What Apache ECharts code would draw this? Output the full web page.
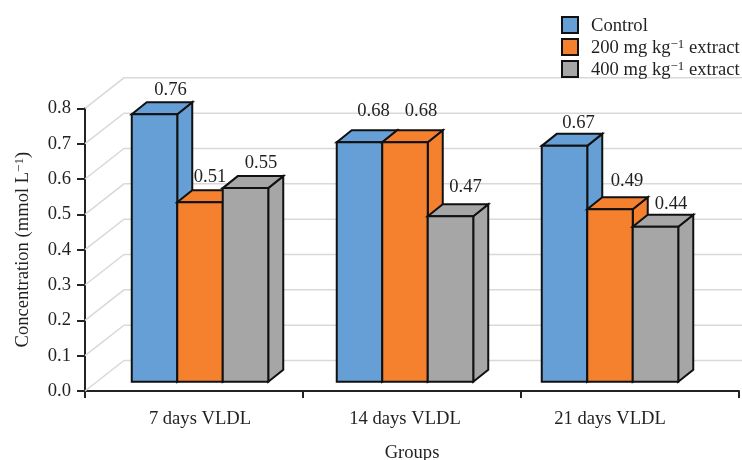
<!DOCTYPE html>
<html>
<head>
<meta charset="utf-8">
<style>html,body{margin:0;padding:0;background:#fff}#chart{width:742px;height:460px}</style>
<script src="https://cdn.jsdelivr.net/npm/echarts@6/dist/echarts.min.js"></script>
</head>
<body>
<div id="chart"></div>
<script>
// Values per treatment, one entry per time point
const groups = ['7 days VLDL', '14 days VLDL', '21 days VLDL'];
const control = [0.76, 0.68, 0.67];
const extract200 = [0.51, 0.68, 0.49];
const extract400 = [0.55, 0.47, 0.44];
const yTicks = [0, 0.1, 0.2, 0.3, 0.4, 0.5, 0.6, 0.7, 0.8];

// Pseudo-3D drawing parameters
const INK = '#111111';
const TEXT = '#231f20';
const FONT = '"Liberation Serif", serif';
const FONT_SIZE = 18.6;
const BAR_DEPTH = [15, -12];
const WALL_DEPTH = [39, -30.5];
const BAR_SHARE = 45.5 / 205;

// Value label placement relative to each bar's front-top centre
const labelShiftX = [[16, 14, 14], [10, 16, 17], [15.5, 15, 15.5]];
const labelShiftY = [[-24, -31, -23], [-25, -31, -28], [-25, -29, -23]];

const treatments = [
  { name: 'Control', values: control, color: '#659fd6' },
  { name: '200 mg kg{sup|\u22121} extract', values: extract200, color: '#f5812f' },
  { name: '400 mg kg{sup|\u22121} extract', values: extract400, color: '#a6a6a6' }
];

function renderBar(index) {
  return function (params, api) {
    const cat = api.value(0);
    const val = api.value(1);
    const top = api.coord([cat, val]);
    const base = api.coord([cat, 0]);
    const w = api.size([1, 0])[0] * BAR_SHARE;
    const x0 = top[0] + (index - 1.5) * w;
    const x1 = x0 + w;
    const dx = BAR_DEPTH[0];
    const dy = BAR_DEPTH[1];
    const color = treatments[index].color;
    const face = { fill: color, stroke: INK, lineWidth: 2, lineJoin: 'miter' };
    return {
      type: 'group',
      children: [
        { type: 'polygon', shape: { points: [[x1, base[1]], [x1 + dx, base[1] + dy], [x1 + dx, top[1] + dy], [x1, top[1]]] }, style: face },
        { type: 'polygon', shape: { points: [[x0, top[1]], [x0 + dx, top[1] + dy], [x1 + dx, top[1] + dy], [x1, top[1]]] }, style: face },
        { type: 'rect', shape: { x: x0, y: top[1], width: w, height: base[1] - top[1] }, style: face },
        {
          type: 'text', z2: 20,
          x: (x0 + x1) / 2 + labelShiftX[index][cat],
          y: top[1] + labelShiftY[index][cat],
          style: { text: val.toFixed(2), fill: TEXT, font: FONT_SIZE + 'px ' + FONT, textAlign: 'center', textVerticalAlign: 'middle' }
        }
      ]
    };
  };
}

// Receding gridlines on the floor edge and back wall
function renderWall(params, api) {
  const y = api.coord([0, api.value(0)])[1];
  const left = params.coordSys.x;
  const corner = [left + WALL_DEPTH[0], y + WALL_DEPTH[1]];
  return {
    type: 'polyline',
    shape: { points: [[left, y], corner, [api.getWidth(), corner[1]]] },
    style: { stroke: '#d9d9d9', lineWidth: 1.5, fill: null }
  };
}

const textBase = { fontFamily: FONT, fontSize: FONT_SIZE, color: TEXT };
const supStyle = { fontFamily: FONT, fontSize: 13, color: TEXT, verticalAlign: 'top', padding: [0, 0, 7, 0] };

const chart = echarts.init(document.getElementById('chart'), null, { renderer: 'canvas' });
chart.setOption({
  animation: false,
  backgroundColor: '#ffffff',
  legend: {
    left: 561, top: 16, orient: 'vertical', icon: 'rect',
    itemWidth: 16, itemHeight: 16, itemGap: 2.5, selectedMode: false, padding: 0,
    itemStyle: { borderColor: INK, borderWidth: 2 },
    data: treatments.map(t => t.name),
    textStyle: Object.assign({}, textBase, { padding: [2, 0, 0, 8], rich: { sup: supStyle } })
  },
  grid: [
    { left: 85, top: 108.3, width: 654, height: 282.7, outerBoundsMode: 'none' },
    { left: 97.5, top: 100.1, width: 615, height: 281.6, outerBoundsMode: 'none' }
  ],
  xAxis: [
    {
      gridIndex: 0, type: 'category', data: groups, boundaryGap: true,
      axisLine: { lineStyle: { color: '#222', width: 2 } },
      axisTick: { show: true, alignWithLabel: false, length: 7, lineStyle: { color: '#222', width: 2 } },
      axisLabel: { show: false },
      name: 'Groups', nameLocation: 'middle', nameGap: 53, nameTextStyle: textBase
    },
    {
      gridIndex: 1, type: 'category', data: groups,
      axisLine: { show: false }, axisTick: { show: false },
      axisLabel: Object.assign({ margin: 28 }, textBase)
    }
  ],
  yAxis: [
    {
      gridIndex: 0, type: 'value', min: 0, max: 0.8, interval: 0.1,
      axisLine: { show: true, lineStyle: { color: '#222', width: 2 } },
      axisTick: { show: true, length: 8, lineStyle: { color: '#222', width: 2 } },
      splitLine: { show: false },
      axisLabel: Object.assign({ margin: 14, formatter: v => v.toFixed(1) }, textBase),
      name: 'Concentration (mmol L{sup|\u22121})', nameLocation: 'middle', nameGap: 52, nameRotate: 90,
      nameTextStyle: Object.assign({}, textBase, { padding: [0, 0, 0, 0], rich: { sup: supStyle } })
    },
    { gridIndex: 1, type: 'value', min: 0, max: 0.8, show: false }
  ],
  series: [
    {
      type: 'custom', name: 'wall', xAxisIndex: 0, yAxisIndex: 0, z: 1, silent: true, clip: false,
      data: yTicks.map(v => [v]), encode: { y: 0 }, renderItem: renderWall
    }
  ].concat(treatments.map((t, i) => ({
    type: 'custom', name: t.name, xAxisIndex: 1, yAxisIndex: 1, z: 2 + i, clip: false,
    itemStyle: { color: t.color },
    data: t.values.map((v, c) => [c, v]),
    encode: { x: 0, y: 1 },
    renderItem: renderBar(i)
  })))
});
</script>
</body>
</html>
